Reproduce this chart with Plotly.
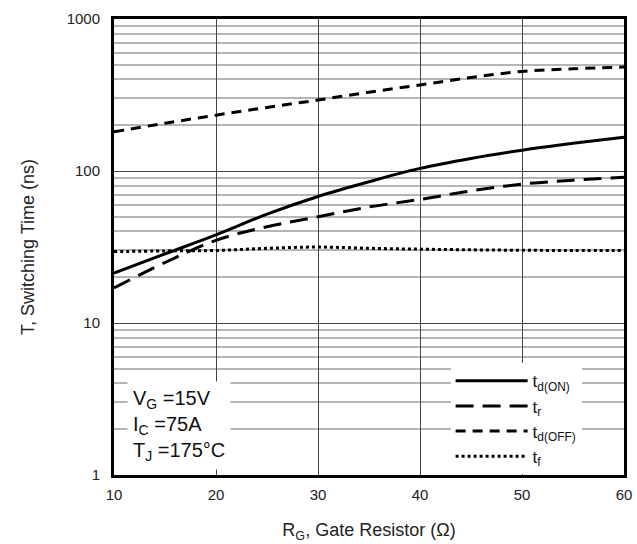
import plotly.graph_objects as go

rg = [10, 15, 20, 25, 30, 35, 40, 45, 50, 55, 60]
td_on = [21.3, 28.5, 38, 52, 68, 85, 104, 121, 137, 152, 167]
t_r = [17, 25, 35, 43, 50, 58, 65, 74, 82, 87, 91]
td_off = [181, 206, 233, 262, 293, 330, 368, 412, 452, 470, 483]
t_f = [29.5, 29.8, 30, 31, 31.6, 31, 30.6, 30.3, 30.1, 30, 30]

fig = go.Figure()
series = [
    ("t<sub>d(ON)</sub>", td_on, "solid"),
    ("t<sub>r</sub>", t_r, "18px,9px"),
    ("t<sub>d(OFF)</sub>", td_off, "10px,7px"),
    ("t<sub>f</sub>", t_f, "dot"),
]
for name, ys, dash in series:
    fig.add_trace(go.Scatter(x=rg, y=ys, name=name, mode="lines",
                             line=dict(color="black", width=3, dash=dash, shape="spline")))

fig.update_layout(
    width=637, height=544,
    margin=dict(l=114, r=13, t=19, b=69, autoexpand=False),
    paper_bgcolor="white", plot_bgcolor="white",
    font=dict(family="Liberation Sans, Arial", color="#222"),
    showlegend=True,
    legend=dict(x=0.66, y=0.245, xanchor="left", yanchor="top", bgcolor="white",
                font=dict(size=17, color="#111"), itemwidth=72, tracegroupgap=0,
                borderwidth=0),
)
fig.update_xaxes(range=[10, 60], dtick=10, showgrid=True, gridcolor="#444", gridwidth=1,
                 showline=True, linecolor="black", linewidth=3, mirror=True, automargin=False,
                 ticks="", tickfont=dict(size=15, color="#222"), ticklabelstandoff=4,
                 title=dict(text="R<sub>G</sub>, Gate Resistor (Ω)", font=dict(size=18, color="#222"), standoff=22),
                 zeroline=False)
fig.update_yaxes(type="log", range=[0, 3], dtick=1, showgrid=True, gridcolor="#444", gridwidth=1,
                 minor=dict(dtick="D1", showgrid=True, gridcolor="#b5b5b5", gridwidth=1.5, ticks=""),
                 showline=True, linecolor="black", linewidth=3, mirror=True, automargin=False,
                 ticks="", tickfont=dict(size=15, color="#222"), tickformat="d", ticklabelstandoff=8,
                 title=dict(text="T, Switching Time (ns)", font=dict(size=18, color="#222"), standoff=28))

fig.add_annotation(
    xref="paper", yref="paper", x=0.026, y=0.012, xanchor="left", yanchor="bottom",
    text="V<sub>G</sub> =15V<br>I<sub>C</sub> =75A<br>T<sub>J</sub> =175°C",
    showarrow=False, align="left", bgcolor="white", font=dict(size=20, color="#111"),
    borderpad=5,
)

fig.write_html("out.html", post_script="document.body.style.margin='0';",
               config={"displayModeBar": False})
